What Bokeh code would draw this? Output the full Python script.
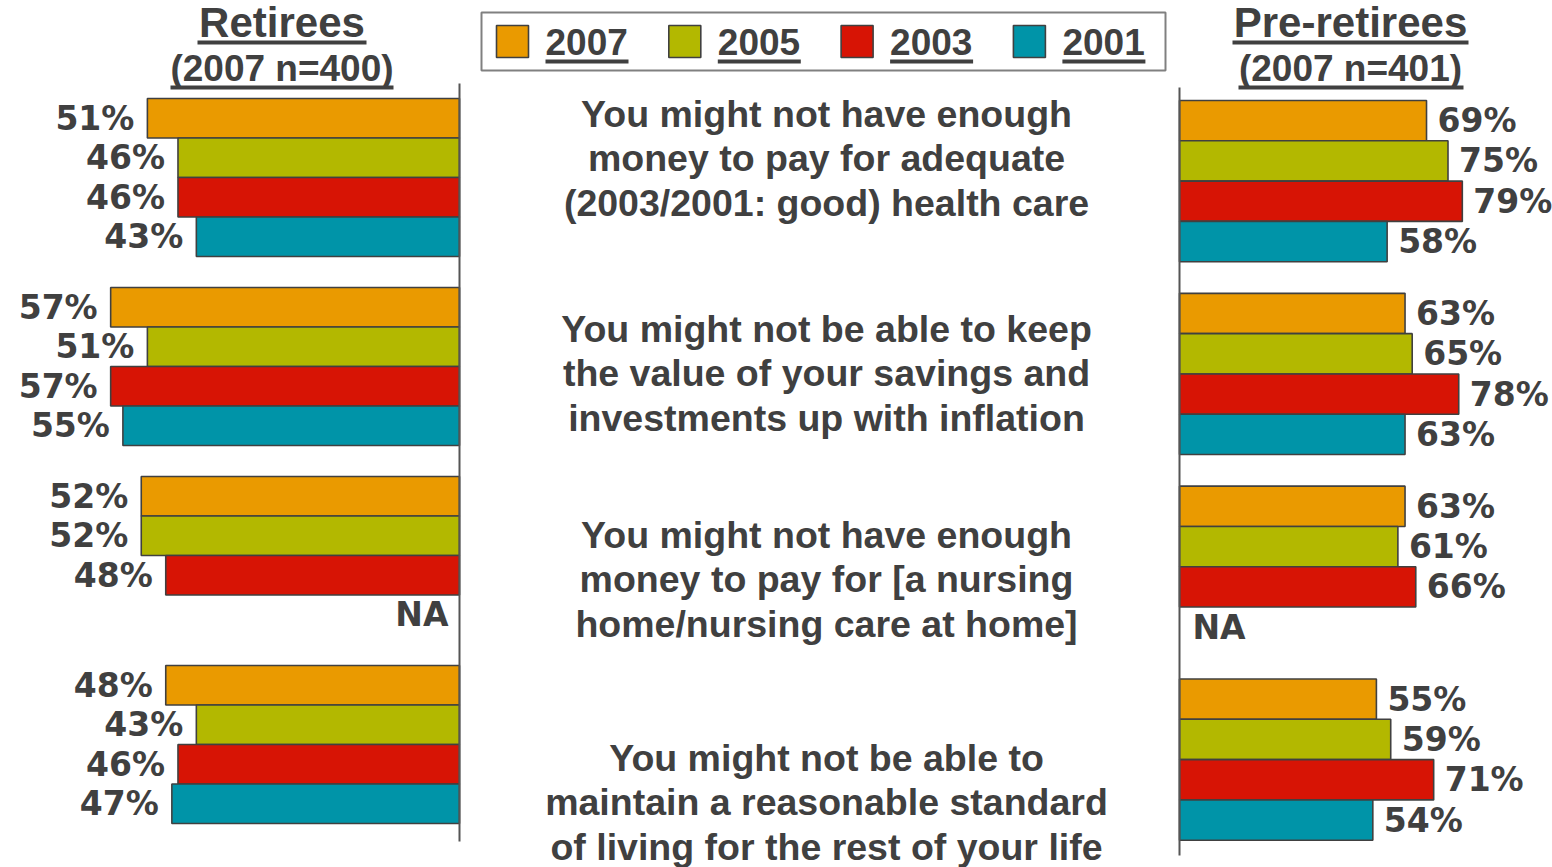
from bokeh.plotting import figure
from bokeh.models import Range1d, ColumnDataSource
from bokeh.embed import file_html
from bokeh.resources import INLINE
from bokeh.core.properties import value

# ---------------- data ----------------
years = ["2007", "2005", "2003", "2001"]
colors = ["#EA9A00", "#B3B800", "#D71405", "#0094A8"]

statements = [
    ["You might not have enough", "money to pay for adequate", "(2003/2001: good) health care"],
    ["You might not be able to keep", "the value of your savings and", "investments up with inflation"],
    ["You might not have enough", "money to pay for [a nursing", "home/nursing care at home]"],
    ["You might not be able to", "maintain a reasonable standard", "of living for the rest of your life"],
]

retirees_2007 = [51, 57, 52, 48]
retirees_2005 = [46, 51, 52, 43]
retirees_2003 = [46, 57, 48, 46]
retirees_2001 = [43, 55, None, 47]

pre_2007 = [69, 63, 63, 55]
pre_2005 = [75, 65, 61, 59]
pre_2003 = [79, 78, 66, 71]
pre_2001 = [58, 63, None, 54]

left_title = ["Retirees", "(2007 n=400)"]
right_title = ["Pre-retirees", "(2007 n=401)"]

# ---------------- layout constants ----------------
W, H = 1552, 867
X0, X1 = 0, W
Y0, Y1 = 0, H
GROUP = 4.785              # group pitch in bar slots
TXT = "#404040"

L_ZERO, L_PX = 459, 6.12   # left panel: zero line and px per %
LY_C, LY_PX = 117.75, 39.5
R_ZERO, R_PX = 1179, 3.58
RY_C, RY_PX = 120.15, 40.3

def build(series):
    ys, vs, cs, labs, na_y = [], [], [], [], []
    for g in range(4):
        for k, s in enumerate(series):
            y = g * GROUP + k
            if s[g] is None:
                na_y.append(y)
                continue
            ys.append(y); vs.append(s[g]); cs.append(colors[k]); labs.append(f"{s[g]}%")
    return (ColumnDataSource(dict(y=ys, v=vs, color=cs, label=labs)),
            ColumnDataSource(dict(y=na_y, v=[0] * len(na_y), label=["NA"] * len(na_y))))

ret_src, ret_na = build([retirees_2007, retirees_2005, retirees_2003, retirees_2001])
pre_src, pre_na = build([pre_2007, pre_2005, pre_2003, pre_2001])

p = figure(width=W, height=H, x_range=Range1d(X0, X1), y_range=Range1d(Y1, Y0),
           output_backend="svg", toolbar_location=None, x_axis_type=None, y_axis_type=None,
           min_border=0, outline_line_color=None, background_fill_color="white")
p.extra_x_ranges = {
    "lx": Range1d((L_ZERO - X0) / L_PX, (L_ZERO - X1) / L_PX),
    "rx": Range1d((X0 - R_ZERO) / R_PX, (X1 - R_ZERO) / R_PX),
}
p.extra_y_ranges = {
    "ly": Range1d((Y1 - LY_C) / LY_PX, (Y0 - LY_C) / LY_PX),
    "ry": Range1d((Y1 - RY_C) / RY_PX, (Y0 - RY_C) / RY_PX),
}

lab_kw = dict(text_font=value("DejaVu Sans"), text_font_style="bold", text_font_size="33px",
              text_color=TXT, text_baseline="middle")

# left panel
p.hbar(y="y", left=0, right="v", height=1, fill_color="color", line_color="#404040",
       line_width=1.6, source=ret_src, x_range_name="lx", y_range_name="ly")
p.text(x="v", y="y", text="label", source=ret_src, x_range_name="lx", y_range_name="ly",
       text_align="right", x_offset=-13, **lab_kw)
p.text(x="v", y="y", text="label", source=ret_na, x_range_name="lx", y_range_name="ly",
       text_align="right", x_offset=-11, **lab_kw)
p.segment(x0=[0], y0=[(83 - LY_C) / LY_PX], x1=[0], y1=[(841 - LY_C) / LY_PX],
          x_range_name="lx", y_range_name="ly", line_color="#555555", line_width=2)

# right panel
p.hbar(y="y", left=0, right="v", height=1, fill_color="color", line_color="#404040",
       line_width=1.6, source=pre_src, x_range_name="rx", y_range_name="ry")
p.text(x="v", y="y", text="label", source=pre_src, x_range_name="rx", y_range_name="ry",
       text_align="left", x_offset=11, **lab_kw)
p.text(x="v", y="y", text="label", source=pre_na, x_range_name="rx", y_range_name="ry",
       text_align="left", x_offset=13, **lab_kw)
p.segment(x0=[0], y0=[(87 - RY_C) / RY_PX], x1=[0], y1=[(855 - RY_C) / RY_PX],
          x_range_name="rx", y_range_name="ry", line_color="#555555", line_width=2)

# panel titles with underlines
hdr_kw = dict(text_font=value("Liberation Sans"), text_font_style="bold", text_color=TXT,
              text_align="center", text_baseline="middle")
for cx, titles, ul in [(281.5, left_title, [(197, 366), (170, 393)]),
                       (1350, right_title, [(1232, 1468), (1238, 1463)])]:
    p.text(x=[cx], y=[22], text=[titles[0]], text_font_size="42px", **hdr_kw)
    p.text(x=[cx], y=[68], text=[titles[1]], text_font_size="37px", **hdr_kw)
    p.segment(x0=[ul[0][0], ul[1][0]], y0=[42, 87], x1=[ul[0][1], ul[1][1]], y1=[42, 87],
              line_color=TXT, line_width=4)

# statements
first_y = [113, 328, 534, 757]
for b, lines in enumerate(statements):
    p.text(x=[826] * 3, y=[first_y[b] + i * 44.5 for i in range(3)], text=lines,
           text_font=value("Liberation Sans"), text_font_style="bold", text_font_size="37.5px",
           text_color=TXT, text_align="center", text_baseline="middle")

# legend
p.quad(left=[481], right=[1165], top=[12], bottom=[70], fill_color=None,
       line_color="#808080", line_width=2)
sq_x = [512 + i * 172.3 for i in range(4)]
p.rect(x=sq_x, y=[41] * 4, width=32, height=32, fill_color=colors,
       line_color="#404040", line_width=1.6)
tx = [x + 33 for x in sq_x]
p.text(x=tx, y=[41] * 4, text=years, text_font=value("Liberation Sans"),
       text_font_style="bold", text_font_size="37px", text_color=TXT,
       text_align="left", text_baseline="middle")
p.segment(x0=tx, y0=[61] * 4, x1=[x + 83 for x in tx], y1=[61] * 4,
          line_color=TXT, line_width=4)

open("out.html", "w").write(file_html(p, INLINE))
